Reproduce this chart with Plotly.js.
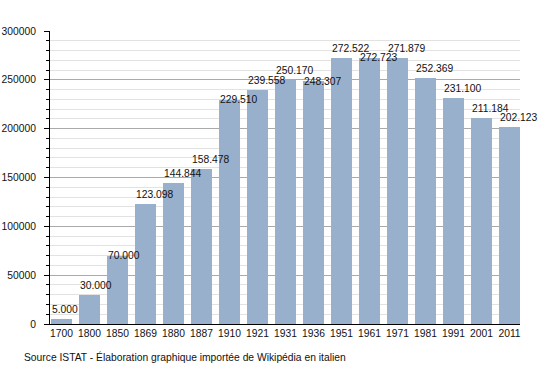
<!DOCTYPE html>
<html>
<head>
<meta charset="utf-8">
<script src="https://cdn.plot.ly/plotly-3.0.1.min.js"></script>
<style>html,body{margin:0;padding:0;background:#fff}#chart{width:550px;height:373px}</style>
</head>
<body>
<div id="chart"></div>
<script>
const years = ['1700','1800','1850','1869','1880','1887','1910','1921','1931','1936','1951','1961','1971','1981','1991','2001','2011'];
const population = [5000,30000,70000,123098,144844,158478,229510,239558,250170,248307,272522,272723,271879,252369,231100,211184,202123];
const valueLabels = ['5.000','30.000','70.000','123.098','144.844','158.478','229.510','239.558','250.170','248.307','272.522','272.723','271.879','252.369','231.100','211.184','202.123'];
const yTickValues = [0,50000,100000,150000,200000,250000,300000];
const sourceText = 'Source ISTAT - Élaboration graphique importée de Wikipédia en italien';

// label placement style: these labels sit centred on the bar top, others just above it
const loweredLabels = ['1850','1910','1936','1961'];
const barWidth = 0.75;
const font = {family: 'Liberation Sans, Arial, sans-serif', size: 10.3, color: '#111'};

const annotations = years.map((yr, i) => ({
  x: i - barWidth / 2, y: population[i], xref: 'x', yref: 'y',
  text: valueLabels[i], showarrow: false, xanchor: 'left', yanchor: 'middle',
  xshift: -1, yshift: loweredLabels.includes(yr) ? 0 : 9.5, font: font
}));
annotations.push({
  x: 22, y: 357, xref: 'paper', yref: 'paper', text: sourceText, showarrow: false,
  xanchor: 'left', yanchor: 'middle', font: font
});
// convert paper coords for the source text to pixel-based placement
annotations[annotations.length - 1].x = (22 - 50) / 470;
annotations[annotations.length - 1].y = (324 - 357) / 293;

const data = [{
  type: 'bar', x: years.map((_, i) => i), y: population, width: barWidth,
  marker: {color: '#98b0cc', line: {width: 0}}, hoverinfo: 'skip'
}];

const layout = {
  width: 550, height: 373,
  margin: {l: 50, r: 30, t: 31, b: 49, pad: 0},
  paper_bgcolor: '#fff', plot_bgcolor: '#fff',
  showlegend: false, font: font,
  bargap: 0,
  xaxis: {
    type: 'linear', range: [-0.41, 16.375], tickvals: years.map((_, i) => i), ticktext: years,
    showgrid: false, zeroline: false, showline: true, linecolor: '#000', linewidth: 1,
    ticks: '', tickfont: font, fixedrange: true
  },
  yaxis: {
    range: [0, 300000], tickvals: yTickValues, ticktext: yTickValues.map(String),
    showgrid: true, gridcolor: '#aaaaaa', gridwidth: 1,
    zeroline: false, showline: true, linecolor: '#000', linewidth: 1,
    ticks: 'outside', ticklen: 5, tickcolor: '#000', tickwidth: 1,
    ticklabelstandoff: 6,
    minor: {dtick: 10000, tick0: 0, showgrid: true, gridcolor: '#e2e2e2', gridwidth: 1, ticks: 'outside', ticklen: 3, tickcolor: '#000'},
    tickfont: font, fixedrange: true
  },
  annotations: annotations
};

Plotly.newPlot('chart', data, layout, {staticPlot: true, displayModeBar: false});
</script>
</body>
</html>
